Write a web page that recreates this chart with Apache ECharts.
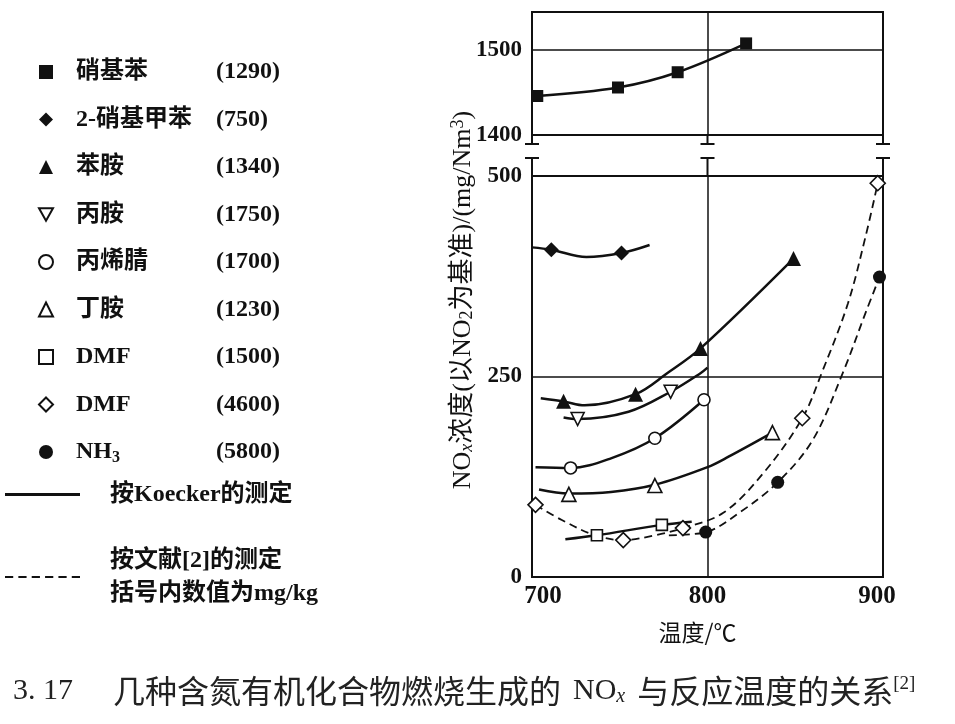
<!DOCTYPE html>
<html>
<head>
<meta charset="utf-8">
<script src="https://cdn.jsdelivr.net/npm/echarts@6/dist/echarts.min.js"></script>
<style>
  html, body { margin: 0; padding: 0; background: #fff; }
  #main { width: 955px; height: 724px; }
</style>
</head>
<body>
<div id="main"></div>
<script>
  // axis ticks
  var tempTicks = [700, 800, 900];
  var lowTicks = [0, 250, 500];
  var highTicks = [1400, 1500];

  // legend text
  var compounds = ['硝基苯', '2-硝基甲苯', '苯胺', '丙胺', '丙烯腈', '丁胺', 'DMF', 'DMF', 'NH3'];
  var doses = ['(1290)', '(750)', '(1340)', '(1750)', '(1700)', '(1230)', '(1500)', '(4600)', '(5800)'];
  var methods = ['按Koecker的测定', '按文献[2]的测定\n括号内数值为mg/kg'];

  // measured points [温度, NOx]
  var nitrobenzene = [[703, 1446], [749, 1456], [783, 1474], [822, 1508]];
  var nitrotoluene = [[711, 408], [751, 404]];
  var aniline = [[718, 219], [759, 228], [796, 285], [849, 397]];
  var propylamine = [[726, 197], [779, 231]];
  var acrylonitrile = [[722, 136], [770, 173], [798, 221]];
  var butylamine = [[721, 103], [770, 114], [837, 180]];
  var dmf1500 = [[737, 52], [774, 65]];
  var dmf4600 = [[702, 90], [752, 46], [786, 61], [854, 198], [897, 491]];
  var ammonia = [[799, 56], [840, 118], [898, 374]];

  // fitted curves
  var nitrobenzeneCurve = [[703, 1446], [749, 1456], [783, 1474], [822, 1508]];
  var nitrotolueneCurve = [[700, 411], [711, 408], [731, 399], [751, 404], [767, 414]];
  var anilineCurve = [[705, 223], [718, 219], [730, 214], [759, 228], [777, 254], [796, 285], [849, 397]];
  var propylamineCurve = [[718, 199], [726, 197], [755, 206], [779, 231], [796, 254], [800, 261]];
  var acrylonitrileCurve = [[702, 137], [722, 136], [745, 148], [770, 173], [798, 221]];
  var butylamineCurve = [[704, 109], [721, 104], [745, 106], [770, 115], [800, 137], [812, 150], [837, 180]];
  var dmf1500Curve = [[719, 47], [737, 52], [774, 65], [791, 69]];
  var dmf4600Curve = [[702, 90], [717, 71], [736, 52], [752, 46], [770, 52], [786, 61], [809, 80], [832, 130], [854, 198], [865, 254], [880, 341], [890, 424], [897, 491]];
  var ammoniaCurve = [[778, 52], [799, 56], [818, 80], [840, 118], [860, 171], [877, 254], [890, 329], [898, 374]];

  var points = [nitrobenzene, nitrotoluene, aniline, propylamine, acrylonitrile, butylamine, dmf1500, dmf4600, ammonia];
  var curves = [nitrobenzeneCurve, nitrotolueneCurve, anilineCurve, propylamineCurve, acrylonitrileCurve,
    butylamineCurve, dmf1500Curve, dmf4600Curve, ammoniaCurve];
  var dashed = [false, false, false, false, false, false, false, true, true];

  var ink = '#111';
  var serif = '"Liberation Serif", "Noto Sans CJK SC", serif';
  var marks = [
    {symbol: 'rect', size: 12, fill: true},
    {symbol: 'diamond', size: 15, fill: true},
    {symbol: 'triangle', size: 15, fill: true},
    {symbol: 'path://M0,0L10,0L5,9Z', size: 13, fill: false},
    {symbol: 'circle', size: 12, fill: false},
    {symbol: 'triangle', size: 14, fill: false},
    {symbol: 'rect', size: 11, fill: false},
    {symbol: 'diamond', size: 15, fill: false},
    {symbol: 'circle', size: 13, fill: true}
  ];

  var names = compounds.map(function (c, i) { return c + ' ' + doses[i]; });

  var series = [];
  curves.forEach(function (curve, i) {
    series.push({
      type: 'line',
      name: dashed[i] ? methods[1] : methods[0],
      xAxisIndex: i === 0 ? 0 : 1,
      yAxisIndex: i === 0 ? 0 : 1,
      data: curve,
      smooth: 0.35,
      symbol: 'none',
      silent: true,
      z: 2,
      itemStyle: {color: ink},
      lineStyle: {color: ink, width: dashed[i] ? 1.8 : 2.5, type: dashed[i] ? [8, 5] : 'solid'}
    });
  });
  points.forEach(function (pts, i) {
    var m = marks[i];
    series.push({
      type: 'scatter',
      name: names[i],
      xAxisIndex: i === 0 ? 0 : 1,
      yAxisIndex: i === 0 ? 0 : 1,
      data: pts,
      symbol: m.symbol,
      symbolSize: m.size,
      z: 3,
      itemStyle: {color: m.fill ? ink : '#fff', borderColor: ink, borderWidth: m.fill ? 0 : 1.6, opacity: 1}
    });
  });

  // axis break caps
  function breakMarks(grid, value, dir, len) {
    return {
      type: 'custom',
      xAxisIndex: grid, yAxisIndex: grid,
      silent: true, clip: false, z: 5,
      data: tempTicks.map(function (t) { return [t, value]; }),
      renderItem: function (params, api) {
        var p = api.coord([api.value(0), api.value(1)]);
        var y2 = p[1] + dir * len;
        return {
          type: 'group',
          children: [
            {type: 'line', shape: {x1: p[0], y1: p[1], x2: p[0], y2: y2}, style: {stroke: ink, lineWidth: 2}},
            {type: 'line', shape: {x1: p[0] - 7, y1: y2, x2: p[0] + 7, y2: y2}, style: {stroke: ink, lineWidth: 2}}
          ]
        };
      }
    };
  }
  series.push(breakMarks(0, highTicks[0], 1, 9));
  series.push(breakMarks(1, lowTicks[2], -1, 18));

  var solidIcon = 'path://M0,0h75v3h-75z';
  var dashIcon = 'path://M0,0h8v2h-8z M13,0h8v2h-8z M26,0h8v2h-8z M39,0h8v2h-8z M52,0h8v2h-8z M65,0h8v2h-8z';

  var chart = echarts.init(document.getElementById('main'));
  chart.setOption({
    animation: false,
    color: [ink],
    textStyle: {fontFamily: serif, color: ink},
    title: {
      left: 8, top: 670,
      text: '{n|3. 17}{gap|}{c|几种含氮有机化合物燃烧生成的}{sp|}{n|NO}{x|x}{sp|}{c|与反应温度的关系}{s|[2]}',
      textStyle: {
        fontSize: 30, fontWeight: 'normal', color: '#222',
        rich: {
          gap: {width: 40},
          sp: {width: 12},
          n: {fontSize: 30, fontFamily: serif, color: '#222'},
          c: {fontSize: 32, fontFamily: '"Noto Sans CJK SC"', color: '#222'},
          x: {fontSize: 20, fontStyle: 'italic', fontFamily: serif, color: '#222', verticalAlign: 'bottom', padding: [10, 0, 0, 0]},
          s: {fontSize: 19, fontFamily: serif, color: '#222', verticalAlign: 'top', padding: [0, 0, 12, 0]}
        }
      }
    },
    legend: [{
      data: names,
      orient: 'vertical',
      left: 38, top: 58, padding: 0,
      itemWidth: 14, itemHeight: 14, itemGap: 19.5,
      selectedMode: false,
      textStyle: {
        fontSize: 24, fontWeight: 'bold', color: ink, lineHeight: 28,
        rich: {
          g: {width: 18},
          a: {width: 140, fontSize: 24, fontWeight: 'bold', fontFamily: serif, color: ink},
          h: {fontSize: 24, fontWeight: 'bold', fontFamily: serif, color: ink},
          sub: {width: 104, fontSize: 16, fontWeight: 'bold', fontFamily: serif, color: ink, verticalAlign: 'bottom', padding: [8, 0, 0, 0]},
          b: {fontSize: 24, fontWeight: 'bold', fontFamily: serif, color: ink}
        }
      },
      formatter: function (name) {
        var k = name.lastIndexOf(' ');
        var c = name.slice(0, k), d = name.slice(k + 1);
        var label = c === 'NH3' ? '{h|NH}{sub|3}' : '{a|' + c + '}';
        return '{g|}' + label + '{b|' + d + '}';
      }
    }, {
      data: [
        {name: methods[0], icon: solidIcon},
        {name: methods[1], icon: dashIcon}
      ],
      orient: 'vertical',
      left: 5, top: 478, padding: 0,
      itemWidth: 75, itemHeight: 14, itemGap: 33,
      selectedMode: false,
      itemStyle: {color: ink, borderWidth: 0},
      textStyle: {
        fontSize: 24, fontWeight: 'bold', color: ink, lineHeight: 33,
        rich: {
          g: {width: 25},
          t: {fontSize: 24, fontWeight: 'bold', fontFamily: serif, color: ink, lineHeight: 33}
        }
      },
      formatter: function (name) {
        return name.split('\n').map(function (line) { return '{g|}{t|' + line + '}'; }).join('\n');
      }
    }],
    grid: [
      {left: 532, right: 72, top: 12, height: 123, show: true, borderColor: ink, borderWidth: 2},
      {left: 532, right: 72, top: 176, height: 401, show: true, borderColor: ink, borderWidth: 2}
    ],
    xAxis: [{
      gridIndex: 0, type: 'value', min: 700, max: 900, interval: 100,
      axisLine: {show: false}, axisTick: {show: false}, axisLabel: {show: false},
      splitLine: {show: true, lineStyle: {color: ink, width: 1.5}}
    }, {
      gridIndex: 1, type: 'value', min: 700, max: 900, interval: 100,
      axisLine: {show: false}, axisTick: {show: false},
      splitLine: {show: true, lineStyle: {color: ink, width: 1.5}},
      axisLabel: {
        margin: 7, fontSize: 25, fontWeight: 'bold', fontFamily: serif, color: ink,
        formatter: function (v) {
          if (v === tempTicks[0]) return '{l|' + v + '}';
          if (v === tempTicks[2]) return '{r|' + v + '}';
          return '' + v;
        },
        rich: {
          l: {fontSize: 25, fontWeight: 'bold', fontFamily: serif, color: ink, padding: [0, 0, 0, 22]},
          r: {fontSize: 25, fontWeight: 'bold', fontFamily: serif, color: ink, padding: [0, 12, 0, 0]}
        }
      },
      name: '温度/℃', nameLocation: 'middle', nameGap: 44,
      nameTextStyle: {fontSize: 23, fontFamily: '"Noto Sans CJK SC"', color: ink, padding: [0, 20, 0, 0]}
    }],
    yAxis: [{
      gridIndex: 0, type: 'value', min: 1400, max: 1545, interval: 100,
      axisLine: {show: false}, axisTick: {show: false},
      splitLine: {show: true, lineStyle: {color: ink, width: 1.5}},
      axisLabel: {
        margin: 10, fontSize: 23, fontWeight: 'bold', fontFamily: serif, color: ink,
        formatter: function (v) { return highTicks.indexOf(v) >= 0 ? '' + v : ''; }
      }
    }, {
      gridIndex: 1, type: 'value', min: 0, max: 500, interval: 250,
      axisLine: {show: false}, axisTick: {show: false},
      splitLine: {show: true, lineStyle: {color: ink, width: 1.5}},
      axisLabel: {
        margin: 10, fontSize: 23, fontWeight: 'bold', fontFamily: serif, color: ink,
        formatter: function (v) { return lowTicks.indexOf(v) >= 0 ? '' + v : ''; }
      }
    }],
    graphic: [{
      type: 'text',
      x: 463, y: 300,
      rotation: Math.PI / 2,
      style: {
        text: 'NO{i|x}浓度(以NO{d|2}为基准)/(mg/Nm{u|3})',
        align: 'center', verticalAlign: 'middle',
        fontSize: 26, fontFamily: serif, fill: ink,
        rich: {
          i: {fontSize: 18, fontStyle: 'italic', fontFamily: serif, fill: ink, verticalAlign: 'bottom', padding: [9, 0, 0, 0]},
          d: {fontSize: 18, fontFamily: serif, fill: ink, verticalAlign: 'bottom', padding: [9, 0, 0, 0]},
          u: {fontSize: 18, fontFamily: serif, fill: ink, verticalAlign: 'top', padding: [0, 0, 9, 0]}
        }
      }
    }],
    series: series
  });
</script>
</body>
</html>
